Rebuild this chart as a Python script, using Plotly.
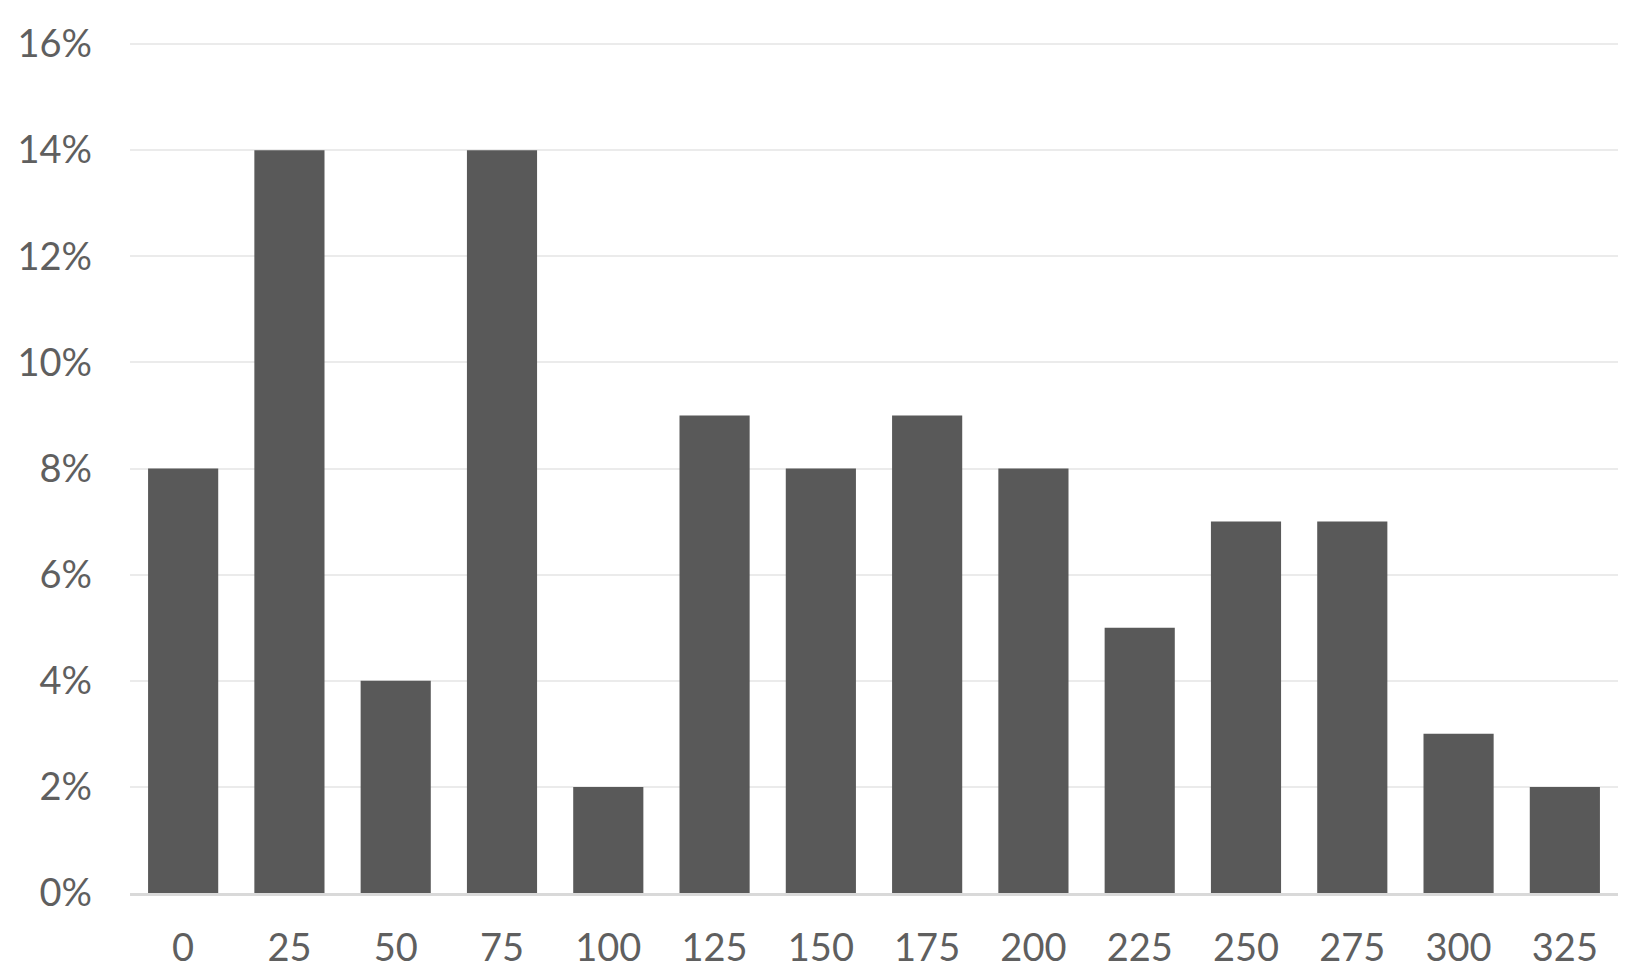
import plotly.graph_objects as go

categories = ["0", "25", "50", "75", "100", "125", "150", "175", "200", "225", "250", "275", "300", "325"]
values = [0.08, 0.14, 0.04, 0.14, 0.02, 0.09, 0.08, 0.09, 0.08, 0.05, 0.07, 0.07, 0.03, 0.02]
y_ticks = [0, 0.02, 0.04, 0.06, 0.08, 0.10, 0.12, 0.14, 0.16]

fig = go.Figure(go.Bar(x=categories, y=values, marker=dict(color="#595959", line=dict(width=0)), width=0.66))

font = dict(family="Lato, Open Sans, sans-serif", size=38, color="#5f5f5f")
fig.update_layout(
    width=1634, height=980,
    margin=dict(l=122, r=24, t=35, b=95),
    paper_bgcolor="white", plot_bgcolor="white",
    showlegend=False,
    font=font,
)
fig.update_xaxes(type="category", showgrid=False, showline=True, linecolor="#d9d9d9", linewidth=3,
                 ticks="", tickfont=font, ticklabelstandoff=19, automargin=False)
fig.update_yaxes(range=[0, 0.1602], tickvals=y_ticks, tickformat=".0%", showgrid=True, gridcolor="#ebebeb",
                 gridwidth=2, zeroline=False, showline=False, ticks="", tickfont=font, ticklabelstandoff=37,
                 automargin=False)

fig.write_html("out.html")
